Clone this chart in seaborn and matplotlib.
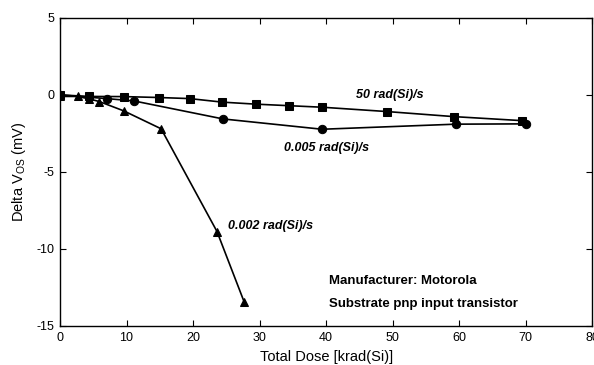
import matplotlib
matplotlib.use("Agg")
import matplotlib.pyplot as plt
import seaborn as sns
import pandas as pd

# Data
dose_50 = [0, 4.4, 9.6, 14.9, 19.5, 24.4, 29.4, 34.4, 39.4, 49.1, 59.2, 69.4]
dv_50 = [0.0, -0.1, -0.11, -0.17, -0.24, -0.47, -0.6, -0.7, -0.8, -1.08, -1.41, -1.67]

dose_005 = [0, 7.0, 11.1, 24.5, 39.4, 59.5, 70.1]
dv_005 = [0.0, -0.24, -0.39, -1.56, -2.23, -1.9, -1.88]

dose_002 = [0, 2.65, 4.4, 5.9, 9.6, 15.2, 23.6, 27.7]
dv_002 = [-0.1, -0.1, -0.26, -0.43, -1.04, -2.2, -8.87, -13.46]

series_names = ["50 rad(Si)/s", "0.005 rad(Si)/s", "0.002 rad(Si)/s"]
x_ticks = [0, 10, 20, 30, 40, 50, 60, 70, 80]
y_ticks = [-15, -10, -5, 0, 5]

frames = []
for name, xs, ys in zip(series_names, [dose_50, dose_005, dose_002], [dv_50, dv_005, dv_002]):
    frames.append(pd.DataFrame({"dose": xs, "dv": ys, "series": name}))
df = pd.concat(frames, ignore_index=True)

sns.set_theme(style="ticks")
plt.rcParams['font.family'] = ['Liberation Sans', 'DejaVu Sans']
plt.rcParams['text.color'] = 'black'
plt.rcParams['axes.labelcolor'] = 'black'

fig = plt.figure(figsize=(5.94, 3.65), dpi=100)
ax = fig.add_axes([0.101, 0.107, 0.896, 0.844])

sns.lineplot(data=df, x="dose", y="dv", hue="series", style="series",
             palette={n: "black" for n in series_names},
             markers={series_names[0]: "s", series_names[1]: "o", series_names[2]: "^"},
             dashes=False, sort=False, markersize=6, linewidth=1.2,
             markeredgecolor="black", legend=False, ax=ax)

ax.set_xlim(0, 80)
ax.set_ylim(-15, 5)
ax.set_xticks(x_ticks)
ax.set_yticks(y_ticks)
ax.set_xticklabels([str(t) for t in x_ticks])
ax.set_yticklabels([str(t) for t in y_ticks])
ax.tick_params(direction="in", top=True, right=True, length=4, width=0.8,
               labelsize=9, colors="black", pad=4)
for s in ax.spines.values():
    s.set_color("black")
    s.set_linewidth(1.0)

ax.set_xlabel("Total Dose [krad(Si)]", fontsize=10.5, labelpad=5, color="black")
ax.set_ylabel(r"Delta V$_{\mathregular{OS}}$ (mV)", fontsize=10.5, labelpad=6, color="black")

ital = dict(style="italic", fontweight="bold", fontsize=9, color="black")
ax.text(49.6, 0.0, "50 rad(Si)/s", ha="center", va="center", **ital)
ax.text(40.0, -3.44, "0.005 rad(Si)/s", ha="center", va="center", **ital)
ax.text(25.2, -8.5, "0.002 rad(Si)/s", ha="left", va="center", **ital)
note = dict(fontsize=9.5, fontweight="bold", color="black", ha="left", va="center")
ax.text(40.5, -12.1, "Manufacturer: Motorola", **note)
ax.text(40.5, -13.6, "Substrate pnp input transistor", **note)

fig.savefig("out.png", dpi=100)
